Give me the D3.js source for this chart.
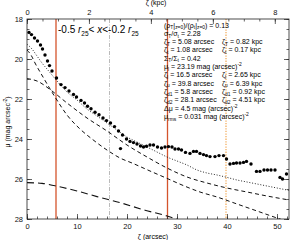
<!DOCTYPE html>
<html><head><meta charset="utf-8">
<script src="https://cdn.jsdelivr.net/npm/d3@7"></script>
<style>body{margin:0;background:#fff}svg{display:block;font-family:"Liberation Sans",Arial,Helvetica,sans-serif}</style>
</head><body><svg id="c" width="295" height="240"></svg>
<script>
// ---- data ----
const profileZeta = [0.4,0.9,1.5,2.1,2.7,3.1,3.6,4.1,4.5,5.0,5.9,
 6.8,7.6,8.4,9.3,9.9,10.8,11.5,12.1,12.8,13.6,
 14.4,15.2,15.9,16.7,17.5,18.3,18.7,19.1,19.9,20.6,
 21.3,22.0,22.7,23.3,23.9,24.6,25.3,26.1,26.9,27.6,
 28.3,29.0,29.6,30.3,30.9,31.7,32.6,33.3,33.9,34.6,
 35.3,35.9,36.6,37.6,38.4,39.3,39.9,40.6,41.3,41.9,
 42.6,43.3,43.9,44.8,45.9,46.6,47.4,48.1,48.8,49.6,
 50.6,51.1,51.9];
const profileMu = [18.67,18.78,18.95,19.1,19.3,19.5,19.8,20.1,20.33,20.6,20.95,
 21.28,21.43,21.6,21.77,21.9,22.07,22.2,22.36,22.49,22.66,
 22.79,22.95,23.08,23.2,23.38,23.6,24.48,23.8,24.0,24.12,
 24.18,24.25,24.35,24.4,24.36,24.3,24.3,24.4,24.45,24.4,
 24.38,24.4,24.5,24.5,24.55,24.67,24.72,24.62,24.62,24.72,
 24.78,24.83,24.88,24.88,24.83,24.83,25.0,25.25,25.22,25.2,
 25.2,25.17,25.12,25.25,25.62,25.62,25.55,25.55,25.55,25.55,
 25.92,26.0,25.75];

const thinZeta = [0,0.8,1.6,3.2,5.6,8,10.6,13,16.6,18.6,21,24.6,28,31,34.6,38,42,46,50,52.4];
const thinMu   = [19.55,19.8,20.2,20.9,21.9,22.8,23.5,24.0,24.65,24.95,25.2,25.6,25.97,26.3,26.65,26.9,27.25,27.6,27.95,28.15];

const thickZeta = [0,2,5,8,12,16,20,24,28,32,36,40,44,48,52.4];
const thickMu   = [20.98,21.1,21.6,22.2,22.95,23.6,24.3,24.9,25.45,25.9,26.2,26.45,26.65,26.85,27.05];

const totalZeta = [0,1,2,3,4,5,6,8,10,12,14,16,18,20,22,24,26,28,30,32,34,36,38,40,42,44,46,48,50,52.4];
const totalMu   = [19.26,19.5,19.85,20.2,20.5,20.8,21.1,21.65,22.05,22.5,22.85,23.2,23.55,23.9,24.15,24.4,24.65,24.9,25.1,25.3,25.55,25.7,25.8,25.92,26.05,26.15,26.25,26.35,26.45,26.57];

const extraZeta = [0,3,5.6,10,14,18.6,23.6,28,31,34];
const extraMu   = [26.18,26.22,26.34,26.6,26.88,27.18,27.56,27.85,28.1,28.3];

const markZeta = {d1:5.8, d2:28.1, l:16.5, u:39.8};
const arcsecPerKpc = 6.195;

const xTicks = [0,10,20,30,40,50];
const kpcTicks = [0,2,4,6,8];
const muTicks = [18,20,22,24,26,28];

const paramLines = [
 [["(ρ"],["T","sub"],["|"],["z=0","sub"],[")/(ρ"],["t","sub"],["|"],["z=0","sub"],[") = 0.13"]],
 [["σ"],["T","sub"],["/σ"],["t","sub"],[" = 2.28"]],
 [["ζ"],["T","sub"],[" = 5.08 arcsec"]],
 [["ζ"],["t","sub"],[" = 1.08 arcsec"]],
 [["Σ"],["T","sub"],["/Σ"],["t","sub"],[" = 0.42"]],
 [["μ"],["l","sub"],[" = 23.19 mag (arcsec)"],["-2","sup"]],
 [["ζ"],["l","sub"],[" = 16.5 arcsec"]],
 [["ζ"],["u","sub"],[" = 39.8 arcsec"]],
 [["ζ"],["d1","sub"],[" = 5.8 arcsec"]],
 [["ζ"],["d2","sub"],[" = 28.1 arcsec"]],
 [["Δμ = 4.5 mag (arcsec)"],["-2","sup"]],
 [["μ"],["rms","sub"],[" = 0.031 mag (arcsec)"],["-2","sup"]]
];
const paramLines2 = {
 2:[["ζ"],["T","sub"],[" = 0.82 kpc"]],
 3:[["ζ"],["t","sub"],[" = 0.17 kpc"]],
 6:[["ζ"],["l","sub"],[" = 2.65 kpc"]],
 7:[["ζ"],["u","sub"],[" = 6.39 kpc"]],
 8:[["ζ"],["d1","sub"],[" = 0.92 kpc"]],
 9:[["ζ"],["d2","sub"],[" = 4.51 kpc"]]
};

// ---- layout ----
const m = {l:27, r:289, t:19, b:219};
const svg = d3.select("#c");
const x = d3.scaleLinear().domain([0,52.4]).range([m.l,m.r]);
const xk = d3.scaleLinear().domain([0,52.4/arcsecPerKpc]).range([m.l,m.r]);
const y = d3.scaleLinear().domain([18,28]).range([m.t,m.b]);

svg.append("defs").append("clipPath").attr("id","clip")
  .append("rect").attr("x",m.l).attr("y",m.t).attr("width",m.r-m.l).attr("height",m.b-m.t);

const plot = svg.append("g").attr("clip-path","url(#clip)");

function vline(v,color,dash,w){
  plot.append("line").attr("x1",x(v)).attr("x2",x(v)).attr("y1",m.t).attr("y2",m.b)
    .attr("stroke",color).attr("stroke-width",w).attr("stroke-dasharray",dash);
}
vline(markZeta.l,"#a8a8a8","4,1.5,1,1.5",0.8);
vline(markZeta.u,"#f6bd7e","1.3,1.3",1.6);
vline(markZeta.d1,"#d4542c",null,1.3);
vline(markZeta.d2,"#d4542c",null,1.3);

const line = d3.line().x(d=>x(d[0])).y(d=>y(d[1])).curve(d3.curveMonotoneX);
function curve(zs,ms,dash,w){
  plot.append("path").datum(zs.map((z,i)=>[z,ms[i]])).attr("d",line)
    .attr("fill","none").attr("stroke","#111").attr("stroke-width",w).attr("stroke-dasharray",dash);
}
curve(extraZeta,extraMu,"7,4",1.1);
curve(thickZeta,thickMu,"4,3",1.0);
curve(thinZeta,thinMu,"4,3",1.0);
curve(totalZeta,totalMu,"1,1.8",0.9);

plot.selectAll("circle.p").data(profileZeta.map((z,i)=>[z,profileMu[i]])).enter()
  .append("circle").attr("cx",d=>x(d[0])).attr("cy",d=>y(d[1])).attr("r",1.7).attr("fill","#000");

function styleAxis(g){
  g.select(".domain").remove();
  g.selectAll("line").attr("stroke","#222").attr("stroke-width",0.7);
  g.selectAll("text").attr("fill","#111").style("font-size","7.5px");
}
svg.append("g").attr("transform",`translate(0,${m.b})`)
  .call(d3.axisBottom(x).tickValues(xTicks).tickSize(-5).tickPadding(5).tickFormat(d3.format("d"))).call(styleAxis);
svg.append("g").attr("transform",`translate(0,${m.b})`)
  .call(d3.axisBottom(x).tickValues(d3.range(0,52.4,2)).tickSize(-2.5).tickFormat("")).call(styleAxis);
svg.append("g").attr("transform",`translate(0,${m.t})`)
  .call(d3.axisTop(xk).tickValues(kpcTicks).tickSize(-5).tickPadding(4).tickFormat(d3.format("d"))).call(styleAxis);
svg.append("g").attr("transform",`translate(0,${m.t})`)
  .call(d3.axisTop(xk).tickValues(d3.range(0,8.5,0.5)).tickSize(-2.5).tickFormat("")).call(styleAxis);
svg.append("g").attr("transform",`translate(${m.l},0)`)
  .call(d3.axisLeft(y).tickValues(muTicks).tickSize(-5).tickPadding(4).tickFormat(d3.format("d"))).call(styleAxis);
svg.append("g").attr("transform",`translate(${m.l},0)`)
  .call(d3.axisLeft(y).tickValues(d3.range(18,28.01,0.5)).tickSize(-2.5).tickFormat("")).call(styleAxis);
svg.append("g").attr("transform",`translate(${m.r},0)`)
  .call(d3.axisRight(y).tickValues(muTicks).tickSize(-5).tickFormat("")).call(styleAxis);
svg.append("g").attr("transform",`translate(${m.r},0)`)
  .call(d3.axisRight(y).tickValues(d3.range(18,28.01,0.5)).tickSize(-2.5).tickFormat("")).call(styleAxis);

svg.append("rect").attr("x",m.l).attr("y",m.t).attr("width",m.r-m.l).attr("height",m.b-m.t)
  .attr("fill","none").attr("stroke","#222").attr("stroke-width",0.8);

// rich text: subscripts / superscripts, baseline restored on the next piece
function rich(t,parts,fs){
  let cur=0;
  parts.forEach(p=>{
    const target = p[1]==="sub" ? fs*0.25 : p[1]==="sup" ? -fs*0.4 : 0;
    const ts=t.append("tspan").text(p[0]);
    if(target!==cur) ts.attr("dy",target-cur);
    if(p[1]) ts.style("font-size",(fs*0.7)+"px");
    cur=target;
  });
}
const xl = svg.append("text").attr("x",153).attr("y",238.5).attr("text-anchor","middle").style("font-size","7px").text("ζ (arcsec)");
const tl = svg.append("text").attr("x",156).attr("y",5).attr("text-anchor","middle").style("font-size","7px").text("ζ (kpc)");
const yl = svg.append("text").attr("transform","translate(9.5,122) rotate(-90)").attr("text-anchor","middle").style("font-size","7px");
rich(yl,[["μ (mag arcsec"],["-2","sup"],[")"]],7);

const big = svg.append("text").attr("x",58).attr("y",33).style("font-size","10px");
big.append("tspan").text("-0.5 ");
big.append("tspan").text("r").style("font-style","italic");
big.append("tspan").text("25").style("font-size","6.5px").attr("dy",2.5);
big.append("tspan").text("< ").attr("dy",-2.5);
big.append("tspan").text("x").style("font-style","italic");
big.append("tspan").text("<-0.2 ");
big.append("tspan").text("r").style("font-style","italic");
big.append("tspan").text("25").style("font-size","6.5px").attr("dy",2.5);

const fs=7;
paramLines.forEach((parts,i)=>{
  const t=svg.append("text").attr("x",164).attr("y",27.5+i*8.3).style("font-size",fs+"px");
  rich(t,parts,fs);
  if(paramLines2[i]){
    const t2=svg.append("text").attr("x",222).attr("y",27.5+i*8.3).style("font-size",fs+"px");
    rich(t2,paramLines2[i],fs);
  }
});
</script></body></html>
